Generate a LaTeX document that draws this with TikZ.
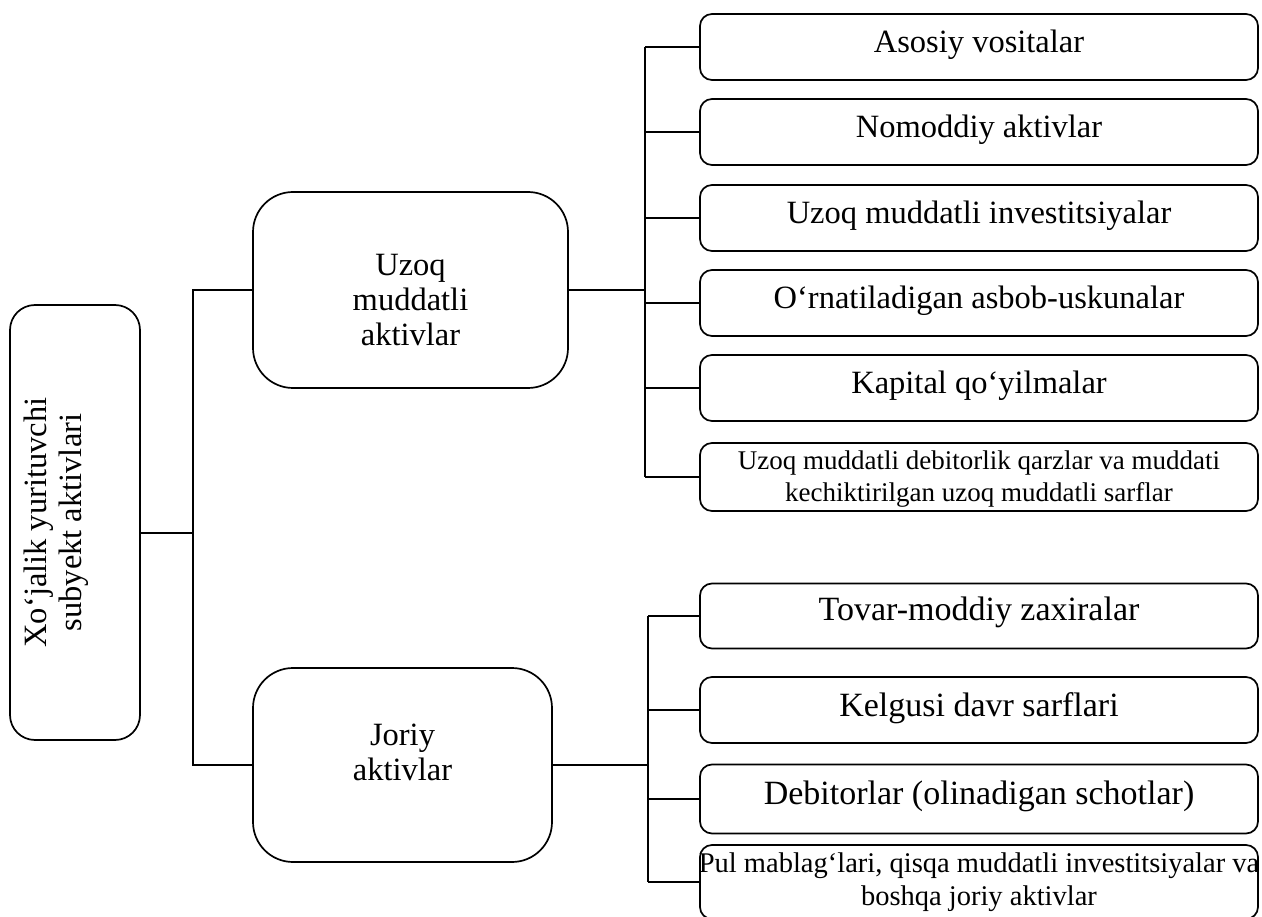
\documentclass[tikz,border=0pt]{standalone}
\usepackage{fontspec}
\setmainfont{Liberation Serif}
\usetikzlibrary{calc}

\tikzset{
  box/.style={draw, line width=1.7pt, inner sep=0pt, rounded corners=12pt},
  bigbox/.style={box, rounded corners=40pt},
  lbl/.style={anchor=north, inner sep=0pt, align=center, font=\fontsize{32.5}{35}\selectfont},
  lowlbl/.style={lbl, font=\fontsize{34}{36}\selectfont},
  smalllbl/.style={lbl, font=\fontsize{27}{32}\selectfont},
  midlbl/.style={lbl, font=\fontsize{28.5}{33}\selectfont},
  link/.style={line width=1.7pt},
}

\begin{document}
\begin{tikzpicture}[x=1pt,y=-1pt]
\useasboundingbox (0,0) rectangle (1262,917);

% left column
\node[box, rounded corners=25pt, minimum width=130pt, minimum height=435pt] (root) at (75,522.5) {};
\node[lbl, rotate=90] (roottxt) at ([xshift=15pt]root.west) {Xo‘jalik yurituvchi\\subyekt aktivlari};

% middle column
\node[bigbox, minimum width=315pt, minimum height=196pt] (uzoq) at (410.5,290) {};
\node[lbl] (uzoqtxt) at ([yshift=-63pt]uzoq.north) {Uzoq\\muddatli\\aktivlar};
\node[bigbox, minimum width=299pt, minimum height=194pt] (joriy) at (402.5,765) {};
\node[lbl] (joriytxt) at ([yshift=-57pt]joriy.north) {Joriy\\aktivlar};

% right column, long-term assets
\node[box, minimum width=558pt, minimum height=66pt] (a1) at (979,47) {};
\node[box, minimum width=558pt, minimum height=66pt] (a2) at (979,132) {};
\node[box, minimum width=558pt, minimum height=66pt] (a3) at (979,218) {};
\node[box, minimum width=558pt, minimum height=66pt] (a4) at (979,303) {};
\node[box, minimum width=558pt, minimum height=66pt] (a5) at (979,388) {};
\node[box, minimum width=558pt, minimum height=68pt] (a6) at (979,477) {};
\node[lbl] (a1txt) at ([yshift=-17pt]a1.north) {Asosiy vositalar};
\node[lbl] (a2txt) at ([yshift=-17pt]a2.north) {Nomoddiy aktivlar};
\node[lbl] (a3txt) at ([yshift=-17pt]a3.north) {Uzoq muddatli investitsiyalar};
\node[lbl] (a4txt) at ([yshift=-17pt]a4.north) {O‘rnatiladigan asbob-uskunalar};
\node[lbl] (a5txt) at ([yshift=-17pt]a5.north) {Kapital qo‘yilmalar};
\node[smalllbl] (a6txt) at ([yshift=-8pt]a6.north) {Uzoq muddatli debitorlik qarzlar va muddati\\kechiktirilgan uzoq muddatli sarflar};

% right column, current assets
\node[box, minimum width=558pt, minimum height=65pt] (b1) at (979,616) {};
\node[box, minimum width=558pt, minimum height=66pt] (b2) at (979,710) {};
\node[box, minimum width=558pt, minimum height=69pt] (b3) at (979,799) {};
\node[box, minimum width=558pt, minimum height=74pt] (b4) at (979,882) {};
\node[lowlbl] (b1txt) at ([yshift=-14pt]b1.north) {Tovar-moddiy zaxiralar};
\node[lowlbl] (b2txt) at ([yshift=-16pt]b2.north) {Kelgusi davr sarflari};
\node[lowlbl] (b3txt) at ([yshift=-17pt]b3.north) {Debitorlar (olinadigan schotlar)};
\node[midlbl] (b4txt) at ([yshift=-8pt]b4.north) {Pul mablag‘lari, qisqa muddatli investitsiyalar va\\boshqa joriy aktivlar};

% connectors
\coordinate (j1) at (193,0);
\coordinate (k1) at (645,0);
\coordinate (k2) at (648,0);
\draw[link] ([yshift=-10.5pt]root.east) -- ([yshift=-10.5pt]root.east -| j1);
\draw[link] (uzoq.west) -- (uzoq.west -| j1) -- (joriy.west -| j1) -- (joriy.west);
\draw[link] (uzoq.east) -- (uzoq.east -| k1);
\draw[link] (a1.west -| k1) -- (a6.west -| k1);
\foreach \n in {a1,a2,a3,a4,a5,a6}
  \draw[link] (\n.west -| k1) -- (\n.west);
\draw[link] (joriy.east) -- (joriy.east -| k2);
\draw[link] (b1.west -| k2) -- (b4.west -| k2);
\foreach \n in {b1,b2,b3,b4}
  \draw[link] (\n.west -| k2) -- (\n.west);
\end{tikzpicture}
\end{document}
